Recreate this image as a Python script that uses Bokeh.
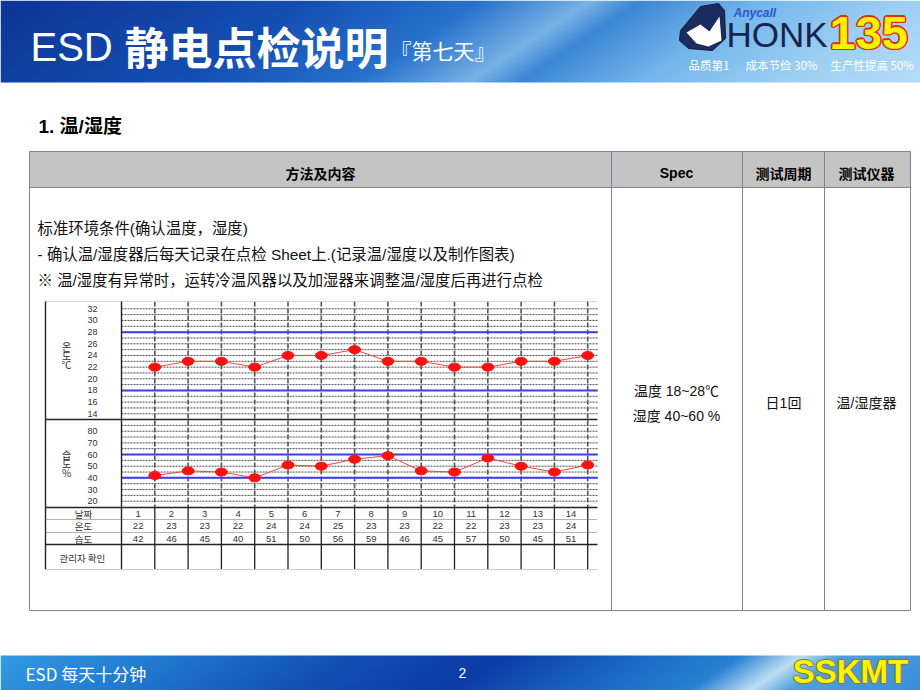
import numpy as np
from bokeh.plotting import figure
from bokeh.models import Range1d
from bokeh.core.properties import value
from bokeh.embed import file_html
from bokeh.resources import INLINE

# ---------------- data ----------------
days = list(range(1, 15))
temps = [22, 23, 23, 22, 24, 24, 25, 23, 23, 22, 22, 23, 23, 24]
hums = [42, 46, 45, 40, 51, 50, 56, 59, 46, 45, 57, 50, 45, 51]
temp_ticks = [32, 30, 28, 26, 24, 22, 20, 18, 16, 14]
hum_ticks = [80, 70, 60, 50, 40, 30, 20]
temp_grid = list(range(14, 33))
hum_grid = list(range(20, 90, 5))
temp_spec = [18, 28]
hum_spec = [40, 60]
row_names = ["날짜", "온도", "습도"]
sign_label = "관리자  확인"
temp_axis_label = ["온", "도", "℃"]
hum_axis_label = ["습", "도", "%"]

# ---------------- geometry ----------------
W, H = 920, 690
X_DAY0, DAY_PX, DAY_END = 121.0, 33.3, 14.3
T_REF, T_REF_Y, T_PX = 32, 308.3, 5.833
H_REF, H_REF_Y, H_PX = 80, 430.7, 1.1667

SANS = value("Liberation Sans, Noto Sans CJK SC")
CJK = value("Noto Sans CJK SC")
KR = value("Noto Sans CJK KR")

p = figure(width=W, height=H, x_range=Range1d(0, W), y_range=Range1d(H, 0),
           output_backend="svg", toolbar_location=None, min_border=0,
           x_axis_location=None, y_axis_location=None,
           background_fill_color="white", border_fill_color="white",
           outline_line_color=None)
p.grid.grid_line_color = None

p.extra_x_ranges = {"day": Range1d(-X_DAY0 / DAY_PX, (W - X_DAY0) / DAY_PX)}
p.extra_y_ranges = {
    "temp": Range1d(T_REF - (H - T_REF_Y) / T_PX, T_REF + T_REF_Y / T_PX),
    "hum": Range1d(H_REF - (H - H_REF_Y) / H_PX, H_REF + H_REF_Y / H_PX),
}


def txt(x, y, s, size, color="black", font=SANS, style="normal", align="left",
        baseline="middle", **kw):
    p.text(x=[x], y=[y], text=[s], text_font_size=f"{size}px", text_color=color,
           text_font=font, text_font_style=style, text_align=align,
           text_baseline=baseline, **kw)


def gradient(w, h, k, stops):
    u = np.arange(w)[None, :] + k * np.arange(h)[:, None]
    pos = [s[0] for s in stops]
    img = np.zeros((h, w, 4), dtype=np.uint8)
    for c in range(3):
        img[..., c] = np.interp(u, pos, [s[c + 1] for s in stops]).astype(np.uint8)
    img[..., 3] = 255
    return np.ascontiguousarray(img).view(np.uint32).reshape(h, w)


# ---------------- header band ----------------
hdr = gradient(W, 82, 1.5, [(0, 14, 54, 150), (300, 20, 78, 178), (480, 40, 115, 205),
                            (590, 120, 178, 230), (640, 60, 135, 212), (760, 115, 182, 236),
                            (900, 155, 207, 243), (1050, 185, 222, 248)])
p.image_rgba(image=[hdr], x=0, y=0, dw=W, dh=82)

txt(30, 46, "ESD", 40, "white")
txt(124, 45, "静电点检说明", 44, "white", font=CJK, style="bold")
txt(390, 49, "『第七天』", 21, "white", font=CJK)

# logo
p.patch([680, 700, 718, 724, 725, 712, 688, 679], [30, 6, 3, 10, 38, 50, 48, 40],
        fill_color="#1b2d5e", line_color="#0e1a3a", line_width=1)
p.patch([686, 700, 709, 719, 721, 708, 696], [32, 24, 31, 16, 40, 46, 43],
        fill_color="white", line_color=None)
txt(733, 12, "Anycall", 12, "#2f55c8", style="bold italic")
txt(726, 34, "HONK", 35, "#16234d")
for dx, dy in [(-1.5, 0), (1.5, 0), (0, -1.5), (0, 1.5), (-1, -1), (1, 1), (-1, 1), (1, -1)]:
    txt(829 + dx, 32 + dy, "135", 47, "#e02a1a", style="bold")
txt(829, 32, "135", 47, "#fff200", style="bold")
txt(688, 64, "品质第1", 11.5, "white", font=CJK)
txt(745, 64, "成本节俭 30%", 11.5, "white", font=CJK)
txt(830, 64, "生产性提高 50%", 11.5, "white", font=CJK)

# ---------------- footer band ----------------
ftr = gradient(W, 35, 1.5, [(0, 50, 155, 225), (150, 35, 125, 210), (350, 18, 80, 180),
                            (500, 12, 60, 165), (620, 25, 100, 195), (740, 40, 130, 210),
                            (800, 190, 222, 243), (840, 80, 160, 225), (980, 55, 140, 220)])
p.image_rgba(image=[ftr], x=0, y=655, dw=W, dh=35)
txt(25, 673, "ESD 每天十分钟", 17, "white", font=CJK)
txt(462, 672, "2", 14, "white", align="center")
for dx, dy in [(-1, 0), (1, 0), (0, -1), (0, 1)]:
    txt(850 + dx, 671 + dy, "SSKMT", 33, "#7a7a30", style="bold", align="center")
txt(850, 671, "SSKMT", 33, "#fff200", style="bold", align="center")

# ---------------- section title ----------------
txt(38, 126, "1. 温/湿度", 19, "black", style="bold")

# ---------------- table ----------------
TL = "#80809a"
p.quad(left=[29], right=[910], top=[151], bottom=[187], fill_color="#c4c4c4",
       line_color=None)
p.quad(left=[29], right=[910], top=[151], bottom=[610], fill_color=None,
       line_color=TL, line_width=1)
p.segment(x0=[29], x1=[910], y0=[187], y1=[187], line_color=TL, line_width=1)
p.segment(x0=[611, 742, 824], x1=[611, 742, 824], y0=[151] * 3, y1=[610] * 3,
          line_color=TL, line_width=1)

txt(320, 172, "方法及内容", 14, style="bold", font=CJK, align="center")
txt(676, 172, "Spec", 14, style="bold", align="center")
txt(783, 172, "测试周期", 14, style="bold", font=CJK, align="center")
txt(866, 172, "测试仪器", 14, style="bold", font=CJK, align="center")

txt(37, 228, "标准环境条件(确认温度，湿度)", 15.4, "#111")
txt(37, 254, "- 确认温/湿度器后每天记录在点检 Sheet上.(记录温/湿度以及制作图表)", 15.4, "#111")
txt(37, 280, "※ 温/湿度有异常时，运转冷温风器以及加湿器来调整温/湿度后再进行点检", 15.4, "#111")

txt(676, 390, "温度 18~28℃", 14, "#111", align="center")
txt(676, 415, "湿度 40~60 %", 14, "#111", align="center")
txt(783, 402, "日1回", 14, "#111", align="center")
txt(866, 402, "温/湿度器", 14, "#111", align="center")

# ---------------- embedded check sheet ----------------
p.multi_line(xs=[[0, DAY_END]] * len(temp_grid), ys=[[t, t] for t in temp_grid],
             line_color="#2a2a2a", line_width=1, line_dash="2 1", line_alpha=0.85,
             x_range_name="day", y_range_name="temp")
p.multi_line(xs=[[0, DAY_END]] * len(hum_grid), ys=[[h, h] for h in hum_grid],
             line_color="#2a2a2a", line_width=1, line_dash="2 1", line_alpha=0.85,
             x_range_name="day", y_range_name="hum")
p.segment(x0=days, x1=days, y0=[301] * len(days), y1=[507] * len(days),
          line_color="#555", line_width=1.6, line_dash="5 2", x_range_name="day")
p.segment(x0=days, x1=days, y0=[507] * len(days), y1=[569] * len(days),
          line_color="#222", line_width=1.3, x_range_name="day")
p.multi_line(xs=[[0, DAY_END]] * 2, ys=[[v, v] for v in temp_spec],
             line_color="#3d3df0", line_width=2, x_range_name="day", y_range_name="temp")
p.multi_line(xs=[[0, DAY_END]] * 2, ys=[[v, v] for v in hum_spec],
             line_color="#3d3df0", line_width=2, x_range_name="day", y_range_name="hum")

p.segment(x0=[45], x1=[597], y0=[301], y1=[301],
          line_color="#d8b8c8", line_width=1, line_dash="2 1")
p.segment(x0=[45, 121], x1=[45, 121], y0=[301, 301], y1=[569, 569],
          line_color="#222", line_width=1.4)
p.segment(x0=[45, 45, 45], x1=[597, 597, 597], y0=[419, 507, 544], y1=[419, 507, 544],
          line_color="#222", line_width=1.4)
p.segment(x0=[45, 45], x1=[597, 597], y0=[519, 532], y1=[519, 532],
          line_color="#666", line_width=1, line_dash="1 1")
p.segment(x0=[45], x1=[597], y0=[569], y1=[569], line_color="#cccccc", line_width=1)

p.line(days, temps, line_color="#ff4040", line_width=1, x_range_name="day",
       y_range_name="temp")
p.ellipse(days, temps, width=12, height=8, width_units="screen", height_units="screen",
          fill_color="#ff1010", line_color="#ff1010",
          x_range_name="day", y_range_name="temp")
p.line(days, hums, line_color="#ff4040", line_width=1, x_range_name="day",
       y_range_name="hum")
p.ellipse(days, hums, width=12, height=8, width_units="screen", height_units="screen",
          fill_color="#ff1010", line_color="#ff1010",
          x_range_name="day", y_range_name="hum")

p.text(x=[92] * len(temp_ticks), y=temp_ticks, text=[str(t) for t in temp_ticks],
       text_font_size="9px", text_color="#333", text_align="center",
       text_baseline="middle", text_font=SANS, y_range_name="temp")
p.text(x=[92] * len(hum_ticks), y=hum_ticks, text=[str(t) for t in hum_ticks],
       text_font_size="9px", text_color="#333", text_align="center",
       text_baseline="middle", text_font=SANS, y_range_name="hum")

p.text(x=[66] * 3, y=[346, 355, 364], text=temp_axis_label, text_font_size="10px",
       text_color="#333", text_align="center", text_baseline="middle", text_font=KR)
p.text(x=[66] * 3, y=[454, 463, 472], text=hum_axis_label, text_font_size="10px",
       text_color="#333", text_align="center", text_baseline="middle", text_font=KR)

row_y = [513, 525.5, 538]
p.text(x=[83] * 3, y=row_y, text=row_names, text_font_size="9.5px", text_color="#333",
       text_align="center", text_baseline="middle", text_font=KR)
centers = [d - 0.5 for d in days]
for yy, vals in zip(row_y, [days, temps, hums]):
    p.text(x=centers, y=[yy] * len(days), text=[str(v) for v in vals],
           text_font_size="9.5px", text_color="#333", text_align="center",
           text_baseline="middle", text_font=SANS, x_range_name="day")
p.text(x=[83], y=[557], text=[sign_label], text_font_size="9.5px", text_color="#333",
       text_align="center", text_baseline="middle", text_font=KR)

open("out.html", "w").write(file_html(p, INLINE))
